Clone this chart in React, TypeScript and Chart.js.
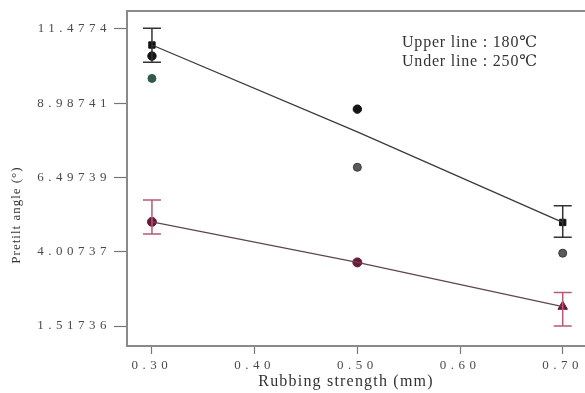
import React, { useEffect, useRef } from "react";
import { Chart, registerables } from "chart.js";

Chart.register(...registerables);

// ---- data ----
const xTickValues = [0.3, 0.4, 0.5, 0.6, 0.7];
const xTickLabels = ["0.30", "0.40", "0.50", "0.60", "0.70"];
const yTickValues = [1.51736, 4.00737, 6.49739, 8.98741, 11.4774];
const yTickLabels = ["1.51736", "4.00737", "6.49739", "8.98741", "11.4774"];

const strengths = [0.3, 0.5, 0.7];
const upperLine = [10.94, 8.03, 4.99]; // 180℃ fit
const lowerLine = [5.01, 3.65, 2.17]; // 250℃ fit

const upperSquares = [
  { x: 0.3, y: 10.94 },
  { x: 0.7, y: 4.99 },
];
const upperDots = [
  { x: 0.3, y: 10.57 },
  { x: 0.5, y: 8.79 },
];
const greenDots = [{ x: 0.3, y: 9.82 }];
const greyDots = [
  { x: 0.5, y: 6.84 },
  { x: 0.7, y: 3.96 },
];
const lowerDots = [
  { x: 0.3, y: 5.01 },
  { x: 0.5, y: 3.65 },
];
const lowerTri = [{ x: 0.7, y: 2.17 }];

const upperErr = [
  { x: 0.3, lo: 10.36, hi: 11.5 },
  { x: 0.7, lo: 4.49, hi: 5.55 },
];
const lowerErr = [
  { x: 0.3, lo: 4.6, hi: 5.74 },
  { x: 0.7, lo: 1.52, hi: 2.64 },
];

const legendLines = ["Upper line : 180℃", "Under line : 250℃"];
const xTitle = "Rubbing strength (mm)";
const yTitle = "Pretilt angle (°)";

const SERIF = "'Liberation Serif', 'DejaVu Serif', serif";

const decorPlugin = {
  id: "decor",
  beforeDraw(chart: any) {
    const ctx = chart.ctx;
    ctx.save();
    ctx.fillStyle = "#ffffff";
    ctx.fillRect(0, 0, chart.width, chart.height);
    ctx.restore();
    ctx.letterSpacing = "4.5px";
  },
  afterDatasetsDraw(chart: any) {
    const ctx = chart.ctx;
    const xs = chart.scales.x;
    const ys = chart.scales.y;
    const drawErr = (list: any[], color: string, width: number) => {
      ctx.save();
      ctx.strokeStyle = color;
      ctx.lineWidth = width;
      list.forEach((e) => {
        const px = xs.getPixelForValue(e.x);
        const pLo = ys.getPixelForValue(e.lo);
        const pHi = ys.getPixelForValue(e.hi);
        ctx.beginPath();
        ctx.moveTo(px, pLo);
        ctx.lineTo(px, pHi);
        ctx.moveTo(px - 9, pLo);
        ctx.lineTo(px + 9, pLo);
        ctx.moveTo(px - 9, pHi);
        ctx.lineTo(px + 9, pHi);
        ctx.stroke();
      });
      ctx.restore();
    };
    drawErr(upperErr, "#333333", 1.5);
    drawErr(lowerErr, "#b8587a", 1.5);
  },
  afterDraw(chart: any) {
    const ctx = chart.ctx;
    const a = chart.chartArea;
    ctx.save();
    ctx.letterSpacing = "0px";
    // top frame line
    ctx.strokeStyle = "#8a8a8a";
    ctx.lineWidth = 2;
    ctx.beginPath();
    ctx.moveTo(a.left - 1, a.top);
    ctx.lineTo(a.right, a.top);
    ctx.stroke();
    // legend text
    ctx.fillStyle = "#333333";
    ctx.letterSpacing = "0.8px";
    ctx.font = `16px ${SERIF}`;
    ctx.textAlign = "left";
    ctx.textBaseline = "middle";
    ctx.fillText(legendLines[0], 402, 43);
    ctx.fillText(legendLines[1], 402, 62);
    // x title
    ctx.letterSpacing = "1.2px";
    ctx.font = `16px ${SERIF}`;
    ctx.textAlign = "center";
    ctx.fillText(xTitle, 346, 382);
    // y title
    ctx.letterSpacing = "1px";
    ctx.font = `13px ${SERIF}`;
    ctx.translate(17, 215);
    ctx.rotate(-Math.PI / 2);
    ctx.fillText(yTitle, 0, 0);
    ctx.restore();
  },
};

export default function App() {
  const ref = useRef<HTMLCanvasElement>(null);
  useEffect(() => {
    const canvas = ref.current;
    if (!canvas) return;
    const chart = new Chart(canvas, {
      type: "scatter",
      data: {
        datasets: [
          {
            type: "line",
            data: strengths.map((x, i) => ({ x, y: upperLine[i] })),
            borderColor: "#3a3a3a",
            borderWidth: 1.3,
            pointRadius: 0,
            fill: false,
          },
          {
            type: "line",
            data: strengths.map((x, i) => ({ x, y: lowerLine[i] })),
            borderColor: "#5e4650",
            borderWidth: 1.3,
            pointRadius: 0,
            fill: false,
          },
          {
            data: upperSquares,
            pointStyle: "rect",
            pointRadius: 4.5,
            backgroundColor: "#111111",
            borderColor: "#111111",
          },
          {
            data: upperDots,
            pointStyle: "circle",
            pointRadius: 4.2,
            backgroundColor: "#151515",
            borderColor: "#151515",
          },
          {
            data: greenDots,
            pointStyle: "circle",
            pointRadius: 4,
            backgroundColor: "#2f5a4c",
            borderColor: "#2f5a4c",
          },
          {
            data: greyDots,
            pointStyle: "circle",
            pointRadius: 4,
            backgroundColor: "#5a5a5a",
            borderColor: "#3a3a3a",
          },
          {
            data: lowerDots,
            pointStyle: "circle",
            pointRadius: 4.5,
            backgroundColor: "#6e1838",
            borderColor: "#6e1838",
          },
          {
            data: lowerTri,
            pointStyle: "triangle",
            pointRadius: 5.5,
            backgroundColor: "#6e1838",
            borderColor: "#6e1838",
          },
        ],
      },
      options: {
        animation: false,
        responsive: false,
        maintainAspectRatio: false,
        layout: { autoPadding: false, padding: { top: 11, left: 0, right: 0, bottom: 0 } },
        plugins: {
          legend: { display: false },
          tooltip: { enabled: false },
        },
        scales: {
          x: {
            type: "linear",
            min: 0.2757,
            max: 0.7217,
            afterBuildTicks: (scale: any) => {
              scale.ticks = xTickValues.map((v) => ({ value: v }));
            },
            afterFit: (scale: any) => {
              scale.height = 47;
              scale.paddingLeft = 0;
              scale.paddingRight = 0;
            },
            ticks: {
              callback: (v: any) => {
                const i = xTickValues.findIndex((t) => Math.abs(t - v) < 1e-6);
                return i >= 0 ? xTickLabels[i] : "";
              },
              color: "#4a4a4a",
              font: { family: SERIF, size: 13 },
              padding: 4,
              maxRotation: 0,
              autoSkip: false,
            },
            grid: {
              drawOnChartArea: false,
              drawTicks: true,
              tickLength: 8,
              tickColor: "#777777",
              tickWidth: 1.2,
            },
            border: { display: true, color: "#8a8a8a", width: 2 },
          },
          y: {
            type: "linear",
            min: 0.847,
            max: 12.081,
            afterBuildTicks: (scale: any) => {
              scale.ticks = yTickValues.map((v) => ({ value: v }));
            },
            afterFit: (scale: any) => {
              scale.width = 127;
              scale.paddingTop = 0;
              scale.paddingBottom = 0;
            },
            ticks: {
              callback: (v: any) => {
                const i = yTickValues.findIndex((t) => Math.abs(t - v) < 1e-6);
                return i >= 0 ? yTickLabels[i] : "";
              },
              color: "#4a4a4a",
              font: { family: SERIF, size: 13 },
              padding: 3,
              autoSkip: false,
            },
            grid: {
              drawOnChartArea: false,
              drawTicks: true,
              tickLength: 13,
              tickColor: "#777777",
              tickWidth: 1.2,
            },
            border: { display: true, color: "#8a8a8a", width: 2 },
          },
        },
      },
      plugins: [decorPlugin],
    } as any);
    return () => chart.destroy();
  }, []);
  return (
    <div style={{ position: "fixed", left: 0, top: 0, width: 585, height: 393, background: "#fff" }}>
      <canvas ref={ref} width={585} height={393} style={{ width: 585, height: 393, display: "block" }} />
    </div>
  );
}
